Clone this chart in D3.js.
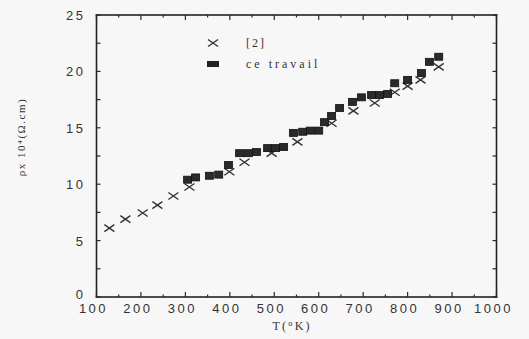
<!DOCTYPE html>
<html>
<head>
<meta charset="utf-8">
<script src="https://cdn.jsdelivr.net/npm/d3@7"></script>
<style>
	html, body { margin: 0; padding: 0; background: #f7f7f7; }
	svg { display: block; }
	.tick-label { font-family: "Liberation Sans", Arial, sans-serif; font-size: 13px; fill: #333; letter-spacing: 2.5px; }
	.serif { font-family: "Liberation Serif", "Times New Roman", serif; fill: #333; }
</style>
</head>
<body>
<div id="chart"></div>
<script>
// [2] reference data (crosses)
const refT = [129, 165, 204, 237, 273, 309, 399, 433, 494, 552, 629, 678, 726, 771, 800, 829, 870];
const refRho = [6.1, 6.9, 7.45, 8.15, 8.95, 9.75, 11.1, 11.95, 12.75, 13.75, 15.4, 16.5, 17.2, 18.15, 18.7, 19.25, 20.4];

// ce travail (filled squares)
const workT = [305, 323, 354, 375, 397, 422, 442, 460, 485, 503, 521, 543, 564, 581, 600, 613, 629, 647, 676, 696, 719, 737, 755, 771, 800, 831, 849, 870];
const workRho = [10.4, 10.6, 10.75, 10.85, 11.7, 12.75, 12.75, 12.85, 13.2, 13.2, 13.3, 14.55, 14.65, 14.75, 14.75, 15.5, 16.05, 16.75, 17.3, 17.7, 17.9, 17.9, 18.0, 18.95, 19.25, 19.85, 20.85, 21.3];

const xTicks = [100, 200, 300, 400, 500, 600, 700, 800, 900, 1000];
const yTicks = [0, 5, 10, 15, 20, 25];

const width = 529, height = 339;
const margin = { left: 96.5, right: 32.5, top: 15, bottom: 42 };

const svg = d3.select("#chart")
	.append("svg")
	.attr("width", width)
	.attr("height", height)
	.attr("viewBox", `0 0 ${width} ${height}`);

const x = d3.scaleLinear().domain([100, 1000]).range([margin.left, width - margin.right]);
const y = d3.scaleLinear().domain([0, 25]).range([height - margin.bottom, margin.top]);

const plotL = x.range()[0], plotR = x.range()[1];
const plotB = y.range()[0], plotT = y.range()[1];

// frame, drawn as thin filled bars
const frame = svg.append("g").attr("class", "frame").attr("fill", "#222");
frame.append("rect").attr("x", plotL - 0.8).attr("y", plotT - 0.8).attr("width", plotR - plotL + 1.6).attr("height", 1.6);
frame.append("rect").attr("x", plotL - 0.8).attr("y", plotB - 0.8).attr("width", plotR - plotL + 1.6).attr("height", 1.6);
frame.append("rect").attr("x", plotL - 0.8).attr("y", plotT - 0.8).attr("width", 1.6).attr("height", plotB - plotT + 1.6);
frame.append("rect").attr("x", plotR - 0.8).attr("y", plotT - 0.8).attr("width", 1.6).attr("height", plotB - plotT + 1.6);

// ticks, all pointing inward (minor every 50 K / 2.5 units)
const minorX = d3.range(100, 1001, 50);
const minorY = d3.range(0, 25.01, 2.5);
const tickLen = (d) => (d % 100 === 0 ? 5 : 2.5);

const ticks = svg.append("g").attr("class", "ticks").attr("fill", "#2a2a2a");
ticks.selectAll("rect.xb")
	.data(minorX)
	.join("rect")
	.attr("class", "xb")
	.attr("x", (d) => x(d) - 0.6)
	.attr("y", (d) => plotB - tickLen(d))
	.attr("width", 1.2)
	.attr("height", tickLen);
ticks.selectAll("rect.xt")
	.data(minorX)
	.join("rect")
	.attr("class", "xt")
	.attr("x", (d) => x(d) - 0.6)
	.attr("y", plotT)
	.attr("width", 1.2)
	.attr("height", tickLen);
ticks.selectAll("rect.yl")
	.data(minorY)
	.join("rect")
	.attr("class", "yl")
	.attr("x", plotL)
	.attr("y", (d) => y(d) - 0.6)
	.attr("width", 4)
	.attr("height", 1.2);
ticks.selectAll("rect.yr")
	.data(minorY)
	.join("rect")
	.attr("class", "yr")
	.attr("x", plotR - 4)
	.attr("y", (d) => y(d) - 0.6)
	.attr("width", 4)
	.attr("height", 1.2);

// tick labels
svg.append("g").selectAll("text")
	.data(xTicks)
	.join("text")
	.attr("class", "tick-label")
	.attr("x", (d) => x(d) - 3)
	.attr("y", plotB + 16)
	.attr("text-anchor", "middle")
	.text((d) => d);

svg.append("g").selectAll("text")
	.data(yTicks)
	.join("text")
	.attr("class", "tick-label")
	.attr("x", plotL - 11)
	.attr("y", (d) => y(d) + (d === 0 ? 2 : 5))
	.attr("text-anchor", "end")
	.text((d) => d);

// axis titles
svg.append("text")
	.attr("class", "serif")
	.attr("x", 292)
	.attr("y", 330)
	.attr("text-anchor", "middle")
	.attr("font-size", 12)
	.attr("letter-spacing", 2)
	.text("T(°K)");

svg.append("text")
	.attr("class", "serif")
	.attr("transform", "translate(25,137) rotate(-90)")
	.attr("text-anchor", "middle")
	.attr("font-size", 11)
	.attr("letter-spacing", 1.5)
	.text("ρx 10⁴(Ω.cm)");

// markers
const crossPath = (cx, cy) => `M${cx - 5},${cy - 3.5}L${cx + 5},${cy + 3.5}M${cx - 5},${cy + 3.5}L${cx + 5},${cy - 3.5}`;

svg.append("g").selectAll("path")
	.data(refT.map((t, i) => [t, refRho[i]]))
	.join("path")
	.attr("d", ([t, r]) => crossPath(x(t), y(r)))
	.attr("stroke", "#333")
	.attr("stroke-width", 1.4)
	.attr("fill", "none");

svg.append("g").selectAll("rect")
	.data(workT.map((t, i) => [t, workRho[i]]))
	.join("rect")
	.attr("x", ([t]) => x(t) - 4)
	.attr("y", ([, r]) => y(r) - 3.5)
	.attr("width", 8)
	.attr("height", 7)
	.attr("fill", "#2a2a2a")
	.attr("stroke", "#111")
	.attr("stroke-width", 0.8);

// legend
const legend = svg.append("g").attr("class", "legend");
legend.append("path")
	.attr("d", crossPath(213, 43))
	.attr("stroke", "#333")
	.attr("stroke-width", 1.4);
legend.append("text")
	.attr("class", "serif")
	.attr("x", 246).attr("y", 47)
	.attr("font-size", 12)
	.attr("letter-spacing", 2)
	.text("[2]");
legend.append("rect")
	.attr("x", 207).attr("y", 61)
	.attr("width", 12).attr("height", 6)
	.attr("fill", "#222");
legend.append("text")
	.attr("class", "serif")
	.attr("x", 246).attr("y", 68)
	.attr("font-size", 12)
	.attr("letter-spacing", 3)
	.text("ce travail");
</script>
</body>
</html>
